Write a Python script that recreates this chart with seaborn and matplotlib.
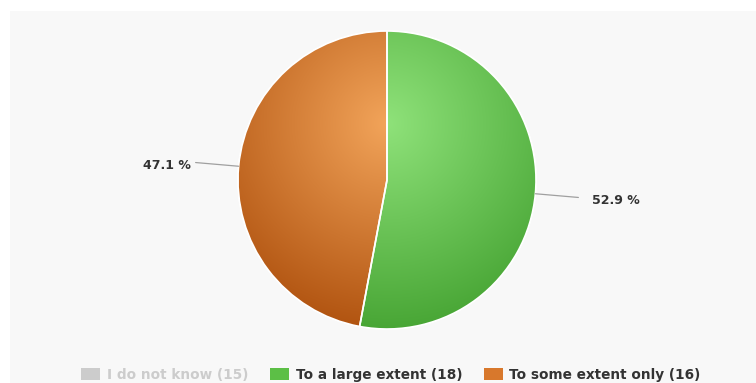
import numpy as np
import matplotlib
matplotlib.use("Agg")
import matplotlib.pyplot as plt
import seaborn as sns
from matplotlib.patches import Rectangle, Patch
from matplotlib.colors import to_rgb

# Survey answers; the first series is switched off in the legend
categories = ["I do not know", "To a large extent", "To some extent only"]
counts = [15, 18, 16]
visible = [False, True, True]
light_colors = ["#cccccc", "#8fe27a", "#f2a45a"]
dark_colors = ["#cccccc", "#45a332", "#ae500d"]
legend_colors = ["#cccccc", "#5cbf46", "#d8782c"]

sns.set_theme(style="white")
plt.rcParams["font.family"] = ["DejaVu Sans"]

W, H = 756, 383
fig = plt.figure(figsize=(W / 100, H / 100), dpi=100)
fig.patch.set_facecolor("white")
fig.add_artist(Rectangle((10 / W, 0), 1 - 10 / W, (H - 11) / H,
                         transform=fig.transFigure, facecolor="#f8f8f8",
                         edgecolor="none", zorder=0))

# pie centre and radius in pixels
cx, cy, r = 387, 180, 149
ax = fig.add_axes([(cx - r) / W, (H - cy - r) / H, 2 * r / W, 2 * r / H])
ax.patch.set_alpha(0)

shown_vals = [c for c, v in zip(counts, visible) if v]
shown_light = [l for l, v in zip(light_colors, visible) if v]
shown_dark = [d for d, v in zip(dark_colors, visible) if v]
total = sum(shown_vals)

wedges, _ = ax.pie(shown_vals, startangle=90, counterclock=False, radius=1,
                   colors=shown_light,
                   wedgeprops=dict(edgecolor="white", linewidth=1, zorder=1))

# radial gradient over the whole pie, lighter towards the upper middle
n = 500
xs = np.linspace(-1, 1, n)
X, Y = np.meshgrid(xs, xs)
dist = np.sqrt((X - 0.0) ** 2 + (Y - 0.38) ** 2)
t = np.clip(dist / 1.45, 0, 1)[..., None]
for w, lc, dc in zip(wedges, shown_light, shown_dark):
    img = np.array(to_rgb(lc)) * (1 - t) + np.array(to_rgb(dc)) * t
    im = ax.imshow(img, extent=(-1, 1, -1, 1), origin="lower", zorder=2,
                   interpolation="bilinear")
    im.set_clip_path(w)

# white slice borders on top of the gradient
ax.pie(shown_vals, startangle=90, counterclock=False, radius=1,
       colors=["none"] * len(shown_vals),
       wedgeprops=dict(edgecolor="white", linewidth=1.2, zorder=3))

# data labels with connectors
for w, val in zip(wedges, shown_vals):
    mid = np.deg2rad((w.theta1 + w.theta2) / 2)
    ex, ey = np.cos(mid), np.sin(mid)
    side = 1 if ex >= 0 else -1
    lx, ly = 1.29 * ex, 1.27 * ey
    ax.plot([ex, lx], [ey, ly], color="#a0a0a0", lw=0.9, zorder=4,
            clip_on=False)
    gap = 0.09 if side > 0 else 0.035
    ax.text(lx + side * gap, ly - 0.02, f"{100 * val / total:.1f} %",
            ha="left" if side > 0 else "right", va="center",
            fontsize=9, fontweight="bold", color="#333333", clip_on=False)

ax.set_xlim(-1, 1)
ax.set_ylim(-1, 1)
ax.set_aspect("equal")
ax.axis("off")

handles = [Patch(facecolor=c, edgecolor="none") for c in legend_colors]
labels = [f"{c} ({n_})" for c, n_ in zip(categories, counts)]
leg = fig.legend(handles, labels, ncol=3, loc="center",
                 bbox_to_anchor=(391 / W, 1 - 375 / H), frameon=False,
                 prop=dict(size=9.8, weight="bold"), handlelength=1.4,
                 handleheight=1.0, handletextpad=0.48, columnspacing=1.6,
                 borderpad=0, borderaxespad=0)
for txt, v in zip(leg.get_texts(), visible):
    txt.set_color("#333333" if v else "#cccccc")

fig.savefig("out.png", dpi=100, facecolor=fig.get_facecolor())
